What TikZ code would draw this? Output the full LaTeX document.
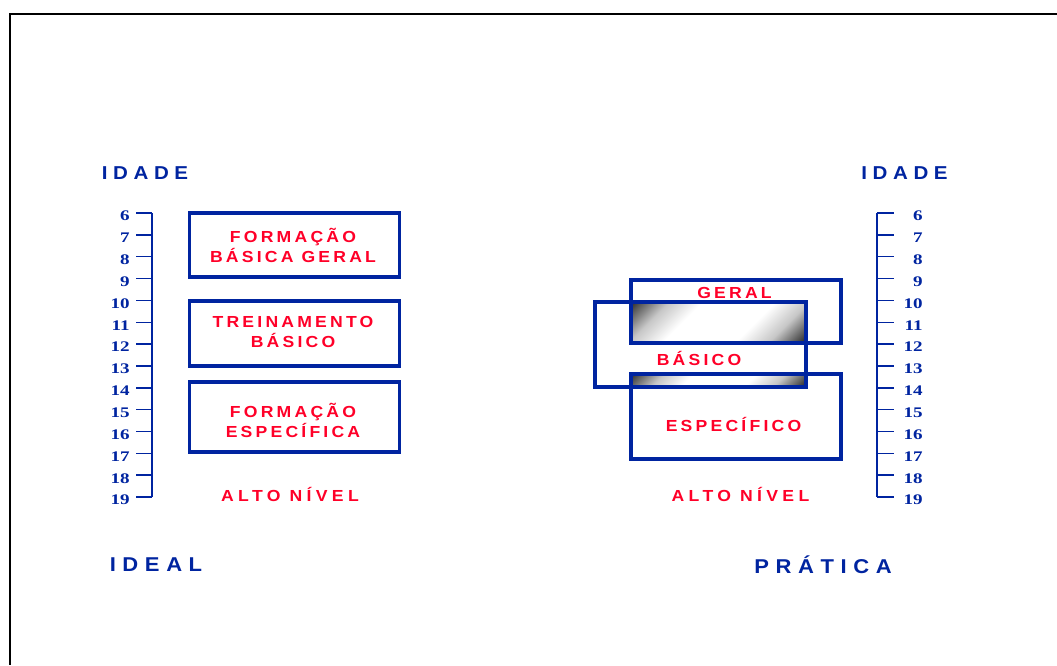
\documentclass[tikz,border=0pt]{standalone}
\usepackage{fontspec}
\setmainfont{Liberation Sans}
\newfontfamily\numfont{Liberation Serif Bold}[FakeStretch=1.3]
\newfontfamily\hdfont{Liberation Sans Bold}[FakeStretch=1.1, LetterSpace=30]
\newfontfamily\bigfont{Liberation Sans Bold}[FakeStretch=1.1, LetterSpace=33]
\newfontfamily\redfont{Liberation Sans Bold}[FakeStretch=1.1, LetterSpace=20]
\newfontfamily\altfont{Liberation Sans Bold}[FakeStretch=1.1, LetterSpace=27]
\definecolor{navy}{RGB}{0,36,160}
\definecolor{redt}{RGB}{255,0,40}
\pgfdeclarehorizontalshading{diag}{100bp}{color(0bp)=(black!85); color(15bp)=(black!80); color(27bp)=(black!22); color(38bp)=(white); color(62bp)=(white); color(73bp)=(black!22); color(85bp)=(black!85); color(100bp)=(black!85)}
\tikzset{
  frameline/.style={line width=1.5pt, black},
  agebox/.style={draw=navy, line width=2.4pt, rectangle, inner sep=0pt},
  axisline/.style={draw=navy, line width=1.1pt},
  hd/.style={text=navy, font=\hdfont\fontsize{14}{16}\selectfont},
  big/.style={text=navy, font=\bigfont\fontsize{15}{17}\selectfont},
  rt/.style={text=redt, font=\redfont\fontsize{12}{15}\selectfont, align=center, inner sep=0pt},
  alt/.style={text=redt, font=\altfont\fontsize{12}{15}\selectfont, inner sep=0pt},
  num/.style={text=navy, font=\numfont\fontsize{11}{12}\selectfont, inner sep=0pt},
  grad/.style={shading=diag, shading angle=-45}
}
\begin{document}
\begin{tikzpicture}[x=0.75pt,y=-0.75pt]
\useasboundingbox (0,0) rectangle (1057,665);
% frame
\coordinate (fTR) at (1057,14);
\coordinate (fTL) at (10,14);
\coordinate (fBL) at (10,665);
\draw[frameline] (fTR) -- (fTL) -- (fBL);

% headers
\node[hd] (idadeL) at (145,173) {IDADE};
\node[hd] (idadeR) at (904.5,173) {IDADE};
\node[big] (ideal) at (156,565) {IDEAL};
\node[big] (pratica) at (823,565) {PRÁTICA};

% axes
\coordinate (aLt) at (152,213); \coordinate (aLb) at (152,497);
\coordinate (aRt) at (877,213); \coordinate (aRb) at (877,497);
\draw[axisline] (aLt) -- (aLb);
\draw[axisline] (aRt) -- (aRb);
\foreach \n in {6,...,19}{
  \pgfmathsetmacro\yy{213+(\n-6)*21.85}
  \draw[axisline] (152,\yy) -- (136,\yy);
  \draw[axisline] (877,\yy) -- (894,\yy);
  \node[num, anchor=east] (L\n) at (130,\yy+3) {\n};
  \node[num, anchor=east] (R\n) at (923,\yy+3) {\n};
}

% left boxes
\node[agebox, minimum width=210.5pt*0.75, minimum height=64pt*0.75] (b1) at (294.5,245) {};
\node[agebox, minimum width=210.5pt*0.75, minimum height=65pt*0.75] (b2) at (294.5,333.5) {};
\node[agebox, minimum width=210.5pt*0.75, minimum height=70pt*0.75] (b3) at (294.5,417) {};
\node[rt] (t1) at (293,245) {FORMAÇÃO\\BÁSICA GERAL};
\node[rt] (t2) at (293,332) {TREINAMENTO\\BÁSICO};
\node[rt] (t3) at (293,420) {FORMAÇÃO\\ESPECÍFICA};
\node[alt] (anL) at (290,494) {ALTO NÍVEL};

% right: shaded overlaps
\shade[grad] (631,302) rectangle (806,343);
\shade[grad] (631,374) rectangle (806,387);
\node[agebox, minimum width=210pt*0.75, minimum height=63pt*0.75] (geral) at (736,311.5) {};
\node[agebox, minimum width=211pt*0.75, minimum height=85pt*0.75] (basico) at (700.5,344.5) {};
\node[agebox, minimum width=210pt*0.75, minimum height=85pt*0.75] (espec) at (736,416.5) {};
\node[rt] (tg) at (734.5,293) {GERAL};
\node[rt] (tb) at (699,358) {BÁSICO};
\node[rt] (te) at (733.5,424) {ESPECÍFICO};
\node[alt] (anR) at (740.5,494) {ALTO NÍVEL};
\end{tikzpicture}
\end{document}
